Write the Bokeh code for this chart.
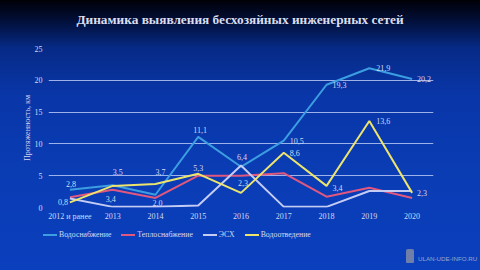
from bokeh.plotting import figure
from bokeh.layouts import column
from bokeh.models import FactorRange, Range1d, ColumnDataSource, LabelSet, Div
from bokeh.embed import file_html
from bokeh.resources import INLINE

title_text = "Динамика выявления бесхозяйных инженерных сетей"
categories = ["2012 и ранее", "2013", "2014", "2015", "2016", "2017", "2018", "2019", "2020"]
water_supply = [2.8, 3.5, 2.0, 11.1, 6.4, 10.5, 19.3, 21.9, 20.2]
heat_supply = [1.6, 2.8, 1.5, 5.0, 5.0, 5.4, 1.7, 3.1, 1.5]
esx = [1.4, 0.1, 0.1, 0.3, 6.6, 0.1, 0.1, 2.6, 2.6]
sewerage = [0.8, 3.4, 3.7, 5.3, 2.3, 8.6, 3.4, 13.6, 2.3]
series_names = ["Водоснабжение", "Теплоснабжение", "ЭСХ", "Водоотведение"]
y_ticks = [0, 5, 10, 15, 20, 25]

colors = ["#3c9ee0", "#e0587e", "#c4ccf4", "#ece46c"]
SERIF = "Liberation Serif"
TXT = "#d4daf2"

title_div = Div(text=(f'<div style="width:480px;height:38px;padding-top:13px;box-sizing:border-box;text-align:center;'
                      f'font-family:\'{SERIF}\';font-size:13.3px;font-weight:bold;line-height:14px;color:#dadff0;'
                      f'white-space:nowrap;">{title_text}</div>'),
                width=480, height=38, margin=0)

p = figure(width=480, height=187, x_range=FactorRange(*categories, range_padding=0),
           y_range=Range1d(0, 25), output_backend="svg", toolbar_location=None, title=None,
           min_border_left=48, min_border_right=47, min_border_top=10, min_border_bottom=18,
           border_fill_color=None, background_fill_color=None, outline_line_color=None)

p.yaxis.ticker = y_ticks
p.yaxis.axis_label = "Протяженность, км"
for ax in (p.xaxis[0], p.yaxis[0]):
    ax.axis_line_color = None
    ax.major_tick_line_color = None
    ax.minor_tick_line_color = None
    ax.major_tick_out = 0
    ax.major_tick_in = 0
    ax.minor_tick_out = 0
    ax.major_label_text_font = SERIF
    ax.major_label_text_font_size = "8px"
    ax.major_label_text_color = TXT
p.yaxis.axis_label_text_font = SERIF
p.yaxis.axis_label_text_font_size = "8px"
p.yaxis.axis_label_text_font_style = "normal"
p.yaxis.axis_label_text_color = TXT
p.yaxis.major_label_standoff = 6
p.yaxis.axis_label_standoff = 0
p.xaxis.major_label_standoff = 4
p.xgrid.grid_line_color = None
p.ygrid.grid_line_color = "#b8c8f4"
p.ygrid.grid_line_alpha = 0.85
p.ygrid.grid_line_width = 1.2

src = ColumnDataSource(dict(x=categories, w=water_supply, h=heat_supply, e=esx, s=sewerage))
for col, c in zip(["w", "h", "e", "s"], colors):
    p.line("x", col, source=src, line_color=c, line_width=2)

def fmt(v):
    return f"{v:.1f}".replace(".", ",")

# label offsets (px) for water supply and sewerage labels
w_dx = [-4, 0, -3, -5, -4, 6, 6, 7, 5]
w_dy = [6, 13, -8, 7, 10, 0, 0, 0, 0]
s_dx = [-12, -7, 0, -5, -3, 6, 6, 7, 5]
s_dy = [0, -13, 12, 6, 10, 0, -2, 0, 0]

lab_w = ColumnDataSource(dict(x=categories, y=water_supply, t=[fmt(v) for v in water_supply], dx=w_dx, dy=w_dy))
lab_s = ColumnDataSource(dict(x=categories, y=sewerage, t=[fmt(v) for v in sewerage], dx=s_dx, dy=s_dy))
for ls in (lab_w, lab_s):
    p.add_layout(LabelSet(x="x", y="y", text="t", x_offset="dx", y_offset="dy", source=ls,
                          text_font=SERIF, text_font_size="8px", text_color=TXT,
                          text_baseline="middle"))

# legend strip and watermark below the chart
item_html = "".join(
    f'<span style="display:inline-flex;align-items:center;margin-right:10px;">'
    f'<span style="display:inline-block;width:14px;height:0;border-top:2px solid {c};margin-right:2px;"></span>{n}</span>'
    for n, c in zip(series_names, colors))
html = (
    '<div style="position:relative;width:480px;height:45px;">'
    f'<div style="position:absolute;left:43px;top:5px;height:10px;display:flex;align-items:center;'
    f'font-family:\'{SERIF}\';font-size:7.8px;line-height:10px;color:{TXT};white-space:nowrap;">{item_html}</div>'
    '<div style="position:absolute;left:406px;top:24px;width:8px;height:14px;background:#8a90a4;border-radius:2px 2px 1px 1px;opacity:0.8;"></div>'
    '<div style="position:absolute;left:418px;top:29px;font-family:\'Liberation Sans\';font-size:6.2px;'
    'line-height:9px;color:#9aa6c8;white-space:nowrap;">ULAN-UDE-INFO.RU</div>'
    '</div>')
legend_div = Div(text=html, width=480, height=45, margin=0)

layout = column(title_div, p, legend_div, spacing=0,
                styles={"background": "linear-gradient(to bottom, #000006 0px, #02103c 22px, #062a86 48px, #0936a8 95px, #0a3cb4 170px, #0a3fbd 270px)"})

open("out.html", "w").write(file_html(layout, INLINE))
